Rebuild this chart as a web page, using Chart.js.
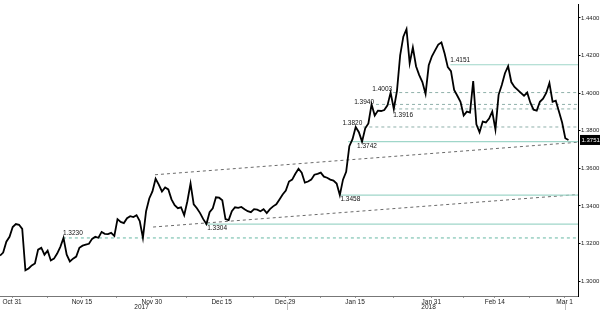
<!DOCTYPE html>
<html>
<head>
<meta charset="utf-8">
<script src="https://cdn.jsdelivr.net/npm/chart.js@4/dist/chart.umd.min.js"></script>
<style>
html,body{margin:0;padding:0;background:#fff;}
#wrap{width:600px;height:310px;}
</style>
</head>
<body>
<div id="wrap"><canvas id="c" width="600" height="310"></canvas></div>
<script>
// ---- data ----
const startDay = -1.9;   // weekday index of first sample (Oct 31 = 0)
const stepDay = 0.5;     // sample spacing in weekdays
const price = [
1.3136,1.3152,1.3210,1.3236,1.3288,1.3304,1.3300,1.3278,1.3058,1.3068,
1.3084,1.3094,1.3168,1.3178,1.3141,1.3162,1.3110,1.3120,1.3147,1.3183,
1.3230,1.3141,1.3105,1.3120,1.3131,1.3178,1.3189,1.3194,1.3199,1.3225,
1.3236,1.3231,1.3262,1.3252,1.3250,1.3257,1.3241,1.3330,1.3315,1.3309,
1.3335,1.3346,1.3341,1.3351,1.3320,1.3231,1.3372,1.3440,1.3477,1.3545,
1.3514,1.3477,1.3498,1.3488,1.3435,1.3404,1.3388,1.3393,1.3351,1.3425,
1.3519,1.3409,1.3388,1.3362,1.3330,1.3304,1.3367,1.3388,1.3446,1.3444,
1.3430,1.3330,1.3325,1.3372,1.3393,1.3390,1.3395,1.3383,1.3372,1.3367,
1.3383,1.3380,1.3372,1.3383,1.3362,1.3383,1.3398,1.3409,1.3435,1.3461,
1.3482,1.3530,1.3540,1.3571,1.3598,1.3577,1.3524,1.3530,1.3540,1.3566,
1.3571,1.3577,1.3556,1.3550,1.3540,1.3535,1.3519,1.3458,1.3540,1.3582,
1.3718,1.3755,1.3820,1.3792,1.3742,1.3813,1.3839,1.3940,1.3881,1.3907,
1.3905,1.3910,1.3935,1.4003,1.3916,1.4012,1.4201,1.4300,1.4340,1.4159,
1.4243,1.4143,1.4096,1.4059,1.3996,1.4148,1.4196,1.4227,1.4258,1.4269,
1.4211,1.4138,1.4117,1.4017,1.3986,1.3954,1.3881,1.3902,1.3897,1.4064,
1.3834,1.3792,1.3849,1.3844,1.3865,1.3902,1.3807,1.3991,1.4043,1.4106,
1.4143,1.4059,1.4033,1.4017,1.4001,1.3986,1.4003,1.3949,1.3912,1.3907,
1.3954,1.3970,1.4001,1.4054,1.3954,1.3960,1.3902,1.3844,1.3760,1.3751
];
const tickDays = [0, 11, 22, 33, 43, 54, 66, 76, 87];
const tickLabels = ['Oct 31','Nov 15','Nov 30','Dec 15','Dec 29','Jan 15','Jan 31','Feb 14','Mar 1'];
const yearLabels = ['2017','2018'];
const yearBreakDay = 43.3;
const lastDay = 87;
const yTicks = [1.30, 1.32, 1.34, 1.36, 1.38, 1.40, 1.42, 1.44];

// horizontal levels: value, start day
const solidLevels = [1.4151, 1.3742, 1.3458, 1.3304];
const solidStarts = [69.0, 52.9, 51.7, 30.4];
const dashedLevels = [1.4003, 1.3940, 1.3916, 1.3820];
const dashedStarts = [60.0, 57.3, 60.0, 55.3];
const supportLevel = 1.3230;
const supportStart = 8.0;
// channel trend lines: [startDay, startValue, endDay, endValue]
const upperTrend = [22.5, 1.3566, 89.1, 1.3739];
const lowerTrend = [22.2, 1.3288, 89.1, 1.3461];

const xMin = -1.9, xMax = 89.1, yMin = 1.29213, yMax = 1.44734;

// ---- build datasets ----
const pricePts = price.map((v, i) => ({x: startDay + i * stepDay, y: v}));
const ds = [];
ds.push({data: pricePts, borderColor: '#000', borderWidth: 1.8, pointRadius: 0, tension: 0, order: 0});
solidLevels.forEach((v, i) => ds.push({data: [{x: solidStarts[i], y: v}, {x: xMax, y: v}], borderColor: '#9fd6c9', borderWidth: 1.2, pointRadius: 0, order: 2}));
dashedLevels.forEach((v, i) => ds.push({data: [{x: dashedStarts[i], y: v}, {x: xMax, y: v}], borderColor: '#8fb0aa', borderWidth: 1, borderDash: [3, 3], pointRadius: 0, order: 2}));
ds.push({data: [{x: supportStart, y: supportLevel}, {x: xMax, y: supportLevel}], borderColor: '#66b8a4', borderWidth: 1, borderDash: [3, 3], pointRadius: 0, order: 2});
[upperTrend, lowerTrend].forEach(t => ds.push({data: [{x: t[0], y: t[1]}, {x: t[2], y: t[3]}], borderColor: '#6a6a6a', borderWidth: 1, borderDash: [3, 3], pointRadius: 0, order: 2}));

const FAM = '"Liberation Sans", Arial, sans-serif';
const FONT = '6.5px ' + FAM;

// label placement per level (style only)
const labelPlace = {
  '1.4151': {align: 'left', dx: 0, dy: -4.5},
  '1.4003': {align: 'right', dx: -1, dy: -3},
  '1.3940': {align: 'right', dx: -2, dy: -2.5},
  '1.3916': {align: 'left', dx: 0, dy: 6},
  '1.3820': {align: 'right', dx: -1, dy: -4},
  '1.3742': {align: 'left', dx: 9, dy: 4.5},
  '1.3458': {align: 'left', dx: 0, dy: 4.5},
  '1.3304': {align: 'left', dx: 2, dy: 4},
  '1.3230': {align: 'left', dx: 0, dy: -5}
};

const annot = {
  id: 'annot',
  afterDraw(chart) {
    const ctx = chart.ctx, xs = chart.scales.x, ys = chart.scales.y;
    const all = [];
    solidLevels.forEach((v, i) => all.push([v, solidStarts[i]]));
    dashedLevels.forEach((v, i) => all.push([v, dashedStarts[i]]));
    all.push([supportLevel, supportStart]);
    ctx.save();
    ctx.font = FONT;
    ctx.fillStyle = '#111';
    ctx.textBaseline = 'middle';
    all.forEach(([v, s]) => {
      const key = v.toFixed(4);
      const p = labelPlace[key];
      ctx.textAlign = p.align;
      ctx.fillText(key, xs.getPixelForValue(s) + p.dx, ys.getPixelForValue(v) + p.dy);
    });
    // last price box
    const last = price[price.length - 1];
    const ly = ys.getPixelForValue(last);
    ctx.fillStyle = '#000';
    ctx.fillRect(xs.right + 2, ly - 5, 600 - xs.right - 2, 10);
    ctx.fillStyle = '#fff';
    ctx.textAlign = 'left';
    ctx.font = '6px ' + FAM;
    ctx.fillText(last.toFixed(4), xs.right + 3.5, ly);
    // year separators / markers below axis
    ctx.strokeStyle = '#bbb';
    ctx.lineWidth = 1;
    [yearBreakDay, lastDay].forEach(d => {
      const px = Math.round(xs.getPixelForValue(d)) + 0.5;
      ctx.beginPath();
      ctx.moveTo(px, ys.bottom + 6);
      ctx.lineTo(px, 310);
      ctx.stroke();
    });
    // year labels
    ctx.font = FONT;
    ctx.fillStyle = '#222';
    ctx.textAlign = 'center';
    const b = xs.getPixelForValue(yearBreakDay);
    ctx.fillText(yearLabels[0], (xs.left + b) / 2 - 2, 307);
    ctx.fillText(yearLabels[1], (b + xs.right) / 2 - 4, 307);
    ctx.restore();
  }
};

new Chart(document.getElementById('c'), {
  type: 'line',
  data: {datasets: ds},
  options: {
    responsive: false,
    devicePixelRatio: 1,
    animation: false,
    layout: {padding: 0},
    plugins: {legend: {display: false}, tooltip: {enabled: false}},
    scales: {
      x: {
        type: 'linear', min: xMin, max: xMax,
        afterBuildTicks(scale) {
          const t = [];
          tickDays.forEach((d, i) => {
            t.push({value: d});
            if (i < tickDays.length - 1) t.push({value: (d + tickDays[i + 1]) / 2});
          });
          scale.ticks = t;
        },
        afterFit(scale) { scale.height = 14; },
        ticks: {
          autoSkip: false, maxRotation: 0, padding: 0,
          font: {family: FAM, size: 6.5},
          color: '#222',
          callback(v) { const i = tickDays.indexOf(v); return i >= 0 ? tickLabels[i] : ''; }
        },
        grid: {display: true, drawOnChartArea: false, tickLength: 2, color: '#999'},
        border: {display: true, color: '#777', width: 1}
      },
      y: {
        type: 'linear', position: 'right', min: yMin, max: yMax,
        afterBuildTicks(scale) { scale.ticks = yTicks.map(v => ({value: v})); },
        afterFit(scale) { scale.width = 22; },
        ticks: {
          padding: 0.5,
          font: {family: FAM, size: 6},
          color: '#222',
          callback(v) { return Number(v).toFixed(4); }
        },
        grid: {display: true, drawOnChartArea: false, tickLength: 2.5, color: '#000'},
        border: {display: true, color: '#000', width: 1}
      }
    }
  },
  plugins: [annot]
});
</script>
</body>
</html>
